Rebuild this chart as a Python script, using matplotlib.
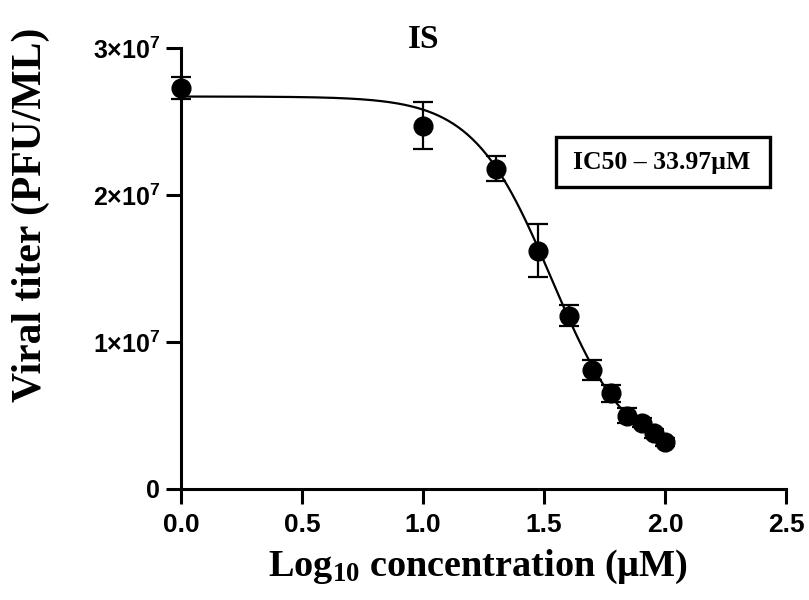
import numpy as np
import matplotlib
matplotlib.use("Agg")
import matplotlib.pyplot as plt
from matplotlib.patches import Rectangle

# Data
log_conc = [0.0, 1.0, 1.301, 1.477, 1.602, 1.699, 1.778, 1.845, 1.903, 1.954, 2.0]
titer = [2.73e7, 2.47e7, 2.18e7, 1.62e7, 1.18e7, 0.81e7, 0.65e7, 0.50e7, 0.45e7, 0.38e7, 0.32e7]
titer_err = [0.075e7, 0.16e7, 0.085e7, 0.18e7, 0.07e7, 0.07e7, 0.06e7, 0.05e7, 0.03e7, 0.03e7, 0.03e7]

# Fitted 4-parameter logistic curve parameters
fit_top = 2.67e7
fit_bottom = 0.19e7
fit_logic50 = 1.531
fit_hill = 2.69

x_ticks = [0.0, 0.5, 1.0, 1.5, 2.0, 2.5]
x_ticklabels = ["0.0", "0.5", "1.0", "1.5", "2.0", "2.5"]
y_ticks = [0, 1e7, 2e7, 3e7]
y_ticklabels = ["0", r"$\mathsf{1{\times}10^{7}}$", r"$\mathsf{2{\times}10^{7}}$", r"$\mathsf{3{\times}10^{7}}$"]

plt.rcParams['mathtext.fontset'] = 'custom'
plt.rcParams['mathtext.rm'] = 'Liberation Serif:bold'
plt.rcParams['mathtext.it'] = 'Liberation Serif:bold'
plt.rcParams['mathtext.bf'] = 'Liberation Serif:bold'
plt.rcParams['mathtext.sf'] = 'Liberation Sans:bold'

W, H = 809, 600
fig = plt.figure(figsize=(W/100, H/100), dpi=100)
ax = fig.add_axes([181/W, 1-489/H, (786-181)/W, (489-48)/H])

xf = np.linspace(0, 2.0, 300)
yf = fit_bottom + (fit_top - fit_bottom) / (1 + 10 ** (fit_hill * (xf - fit_logic50)))
ax.plot(xf, yf, color='black', lw=1.6, zorder=2, clip_on=False)

ax.errorbar(log_conc, titer, yerr=titer_err, fmt='o', color='black', ms=13.5,
            ecolor='black', elinewidth=1.6, capsize=7, capthick=1.6, zorder=3, clip_on=False)

ax.set_xlim(0, 2.5)
ax.set_ylim(0, 3e7)
ax.spines['top'].set_visible(False)
ax.spines['right'].set_visible(False)
for s in ['left', 'bottom']:
    ax.spines[s].set_linewidth(2.2)
ax.set_xticks(x_ticks)
ax.set_xticklabels(x_ticklabels)
ax.set_yticks(y_ticks)
ax.set_yticklabels(y_ticklabels)
ax.tick_params(axis='both', length=11, width=2.2, color='black')
ax.tick_params(axis='x', pad=6)
ax.tick_params(axis='y', pad=4)
for lab in ax.get_xticklabels():
    lab.set_fontfamily('Liberation Sans')
    lab.set_fontweight('bold')
    lab.set_fontsize(19)
for lab in ax.get_yticklabels():
    lab.set_fontfamily('Liberation Sans')
    lab.set_fontweight('bold')
    lab.set_fontsize(18)

fig.text(478/W, 1-567/H, r"Log$_{10}$ concentration (µM)", ha='center', va='center',
         fontfamily='Liberation Serif', fontweight='bold', fontsize=27.5)
fig.text(31/W, 1-215/H, "Viral titer (PFU/ML)", ha='center', va='center', rotation=90,
         fontfamily='Liberation Serif', fontweight='bold', fontsize=30)
fig.text(424/W, 1-40/H, "IS", ha='center', va='center',
         fontfamily='Liberation Serif', fontweight='bold', fontsize=24)

fig.patches.append(Rectangle((556/W, 1-187/H), (770-556)/W, (187-137)/H,
                             transform=fig.transFigure, fill=False, ec='black', lw=2.4))
fig.text(662/W, 1-162/H, "IC50 – 33.97µM", ha='center', va='center',
         fontfamily='Liberation Serif', fontweight='bold', fontsize=18.5)

fig.savefig("out.png", dpi=100)
